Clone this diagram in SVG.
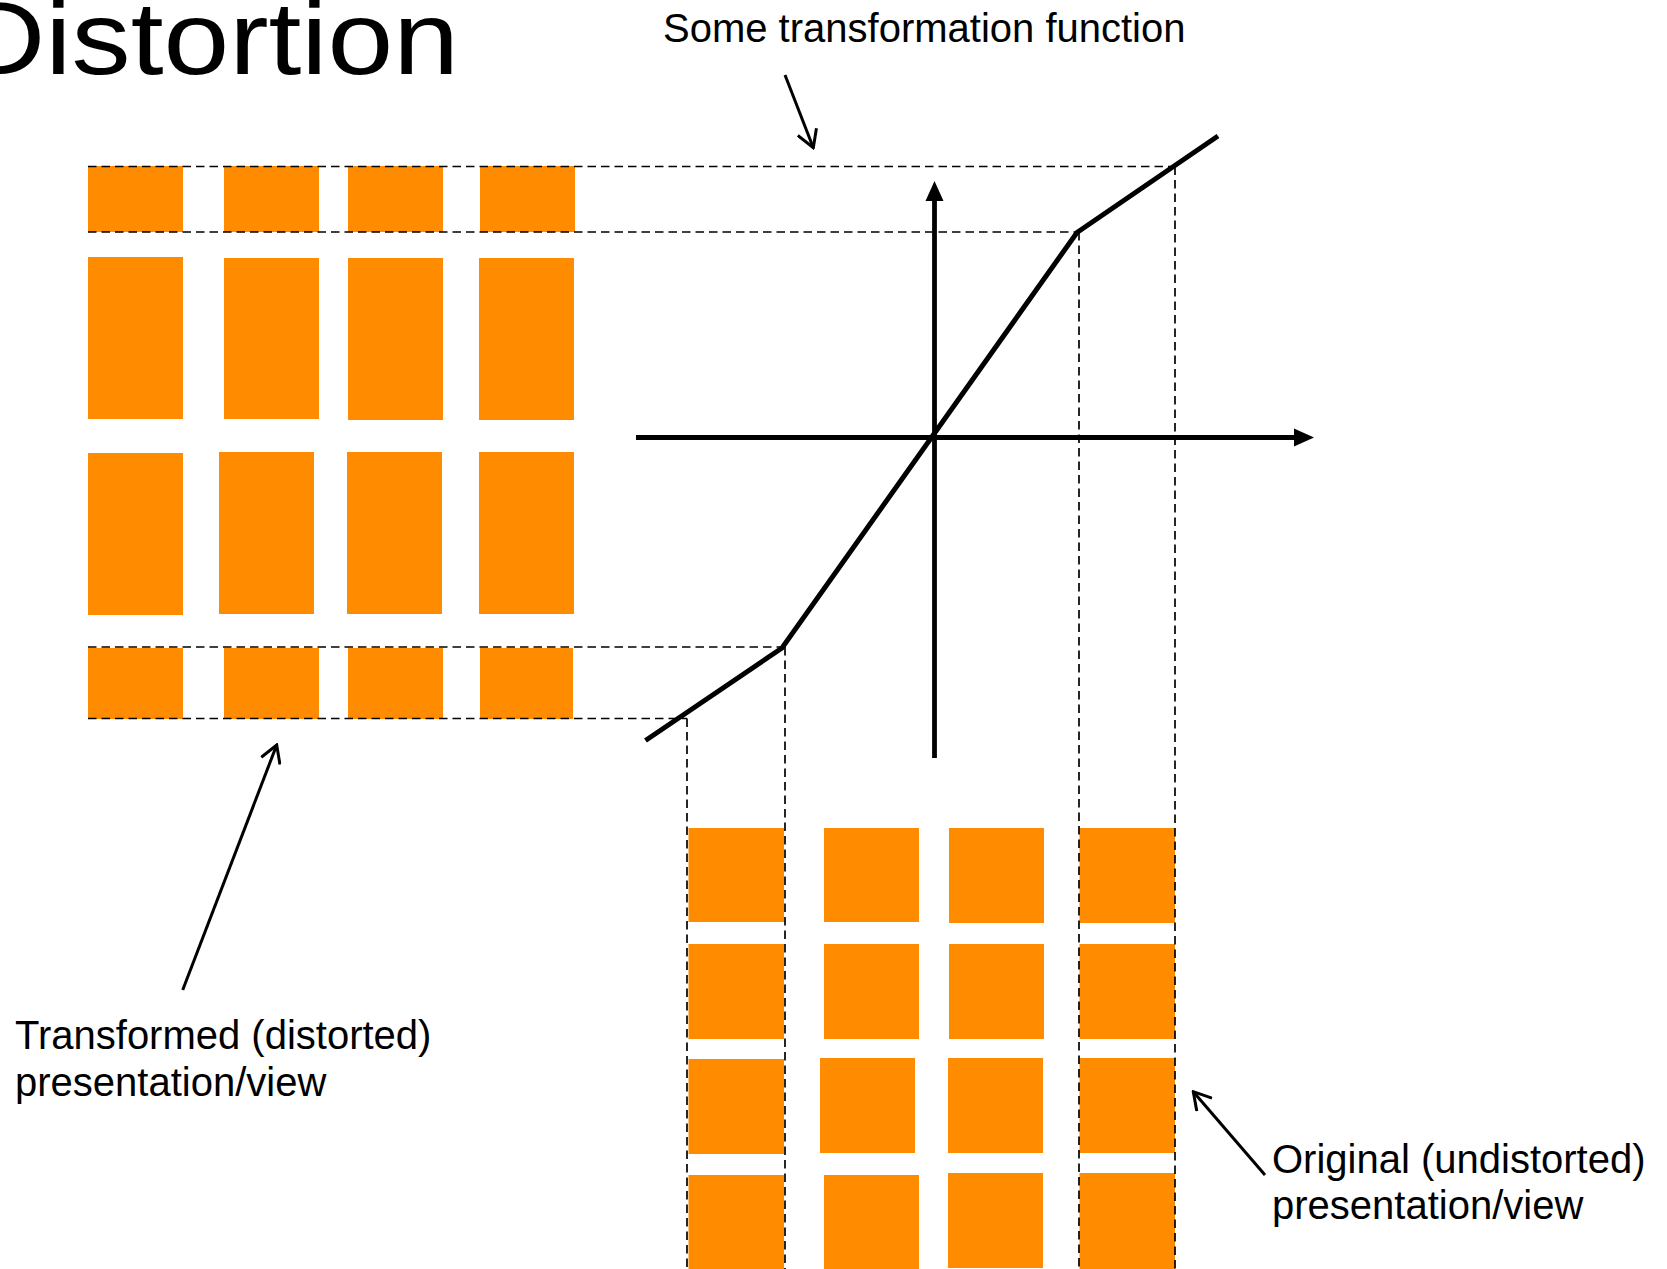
<svg xmlns="http://www.w3.org/2000/svg" width="1667" height="1269" viewBox="0 0 1667 1269">
<defs>
<style>
.cell{fill:#FF8C00}
.guide{stroke:#000;stroke-width:1.7;stroke-dasharray:8.5 5;fill:none}
.axis{stroke:#000;stroke-width:4.8;fill:none}
.curve{stroke:#000;stroke-width:5;fill:none;stroke-linejoin:miter}
.ptr{stroke:#000;stroke-width:3;fill:none;marker-end:url(#open)}
.lbl{font-family:"Liberation Sans",Arial,sans-serif;font-size:40px;fill:#000}
.title{font-family:"Liberation Sans",Arial,sans-serif;font-size:103px;fill:#000}
</style>
<marker id="open" viewBox="0 0 20 22" refX="18" refY="11" markerWidth="20" markerHeight="22" markerUnits="userSpaceOnUse" orient="auto">
<path d="M1,1 L18,11 L1,21" stroke="#000" stroke-width="3" fill="none"/>
</marker>
</defs>
<rect width="1667" height="1269" fill="#fff"/>

<g id="title">
<text class="title" x="-40" y="74" textLength="499" lengthAdjust="spacingAndGlyphs">Distortion</text>
</g>

<g id="transformed-grid">
<rect class="cell" x="88" y="166" width="95" height="66"/>
<rect class="cell" x="224" y="166" width="95" height="66"/>
<rect class="cell" x="348" y="166" width="95" height="66"/>
<rect class="cell" x="480" y="166" width="95" height="66"/>
<rect class="cell" x="88" y="257" width="95" height="162"/>
<rect class="cell" x="224" y="258" width="95" height="161"/>
<rect class="cell" x="348" y="258" width="95" height="162"/>
<rect class="cell" x="479" y="258" width="95" height="162"/>
<rect class="cell" x="88" y="453" width="95" height="162"/>
<rect class="cell" x="219" y="452" width="95" height="162"/>
<rect class="cell" x="347" y="452" width="95" height="162"/>
<rect class="cell" x="479" y="452" width="95" height="162"/>
<rect class="cell" x="88" y="648" width="95" height="71"/>
<rect class="cell" x="224" y="648" width="95" height="71"/>
<rect class="cell" x="348" y="648" width="95" height="71"/>
<rect class="cell" x="480" y="648" width="93" height="71"/>
</g>

<g id="original-grid">
<rect class="cell" x="688.5" y="828" width="95.5" height="94"/>
<rect class="cell" x="824" y="828" width="95" height="94"/>
<rect class="cell" x="949" y="828" width="95" height="95"/>
<rect class="cell" x="1079.5" y="828" width="95.5" height="95"/>
<rect class="cell" x="688.5" y="944" width="95.5" height="95"/>
<rect class="cell" x="824" y="944" width="95" height="95"/>
<rect class="cell" x="949" y="944" width="95" height="95"/>
<rect class="cell" x="1079.5" y="944" width="95.5" height="95"/>
<rect class="cell" x="688.5" y="1059" width="95.5" height="95"/>
<rect class="cell" x="820" y="1058" width="95" height="95"/>
<rect class="cell" x="948" y="1058" width="95" height="95"/>
<rect class="cell" x="1079.5" y="1058" width="95.5" height="95"/>
<rect class="cell" x="688.5" y="1175" width="95.5" height="94"/>
<rect class="cell" x="824" y="1175" width="95" height="94"/>
<rect class="cell" x="948" y="1173" width="95" height="95"/>
<rect class="cell" x="1079.5" y="1173" width="95.5" height="96"/>
</g>

<g id="axes">
<line class="axis" x1="636" y1="437.5" x2="1297" y2="437.5"/>
<polygon points="1314,437.5 1294,428.5 1294,446.5" fill="#000"/>
<line class="axis" x1="934.5" y1="758" x2="934.5" y2="198"/>
<polygon points="934.5,181 925.5,201 943.5,201" fill="#000"/>
</g>

<g id="transformation-curve">
<polyline class="curve" points="645.5,740.5 782,648 1077,232.5 1218,136"/>
</g>

<g id="connectors">
<line class="guide" x1="88" y1="166.5" x2="1175" y2="166.5"/>
<line class="guide" x1="88" y1="232" x2="1079" y2="232"/>
<line class="guide" x1="88" y1="647" x2="783" y2="647"/>
<line class="guide" x1="88" y1="718.5" x2="687" y2="718.5"/>
<line class="guide" x1="687" y1="718.5" x2="687" y2="1269"/>
<line class="guide" x1="785" y1="647" x2="785" y2="1269"/>
<line class="guide" x1="1079" y1="232" x2="1079" y2="1269"/>
<line class="guide" x1="1175" y1="166.5" x2="1175" y2="1269"/>
<line class="ptr" x1="785" y1="75" x2="813.3" y2="147.7"/>
<line class="ptr" x1="182.7" y1="990" x2="276.7" y2="745"/>
<line class="ptr" x1="1265" y1="1175" x2="1193.3" y2="1091.7"/>
</g>

<g id="label-function">
<text class="lbl" x="663" y="42">Some transformation function</text>
</g>
<g id="label-transformed">
<text class="lbl" x="15" y="1049">Transformed (distorted)</text>
<text class="lbl" x="15" y="1096">presentation/view</text>
</g>
<g id="label-original">
<text class="lbl" x="1272" y="1173">Original (undistorted)</text>
<text class="lbl" x="1272" y="1219">presentation/view</text>
</g>
</svg>
